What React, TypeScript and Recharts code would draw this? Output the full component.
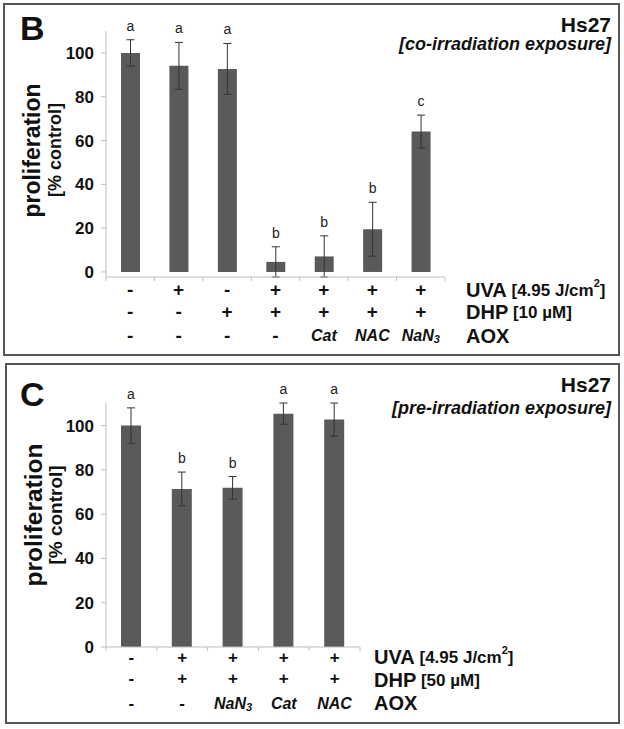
import { BarChart, Bar, XAxis, YAxis, ErrorBar, LabelList } from "recharts";

const FONT = "'Liberation Sans', Arial, sans-serif";
const BAR = "#5a5a5a";
const AXIS = "#bdbdbd";

// panel B – co-irradiation
const bUva = ["-", "+", "-", "+", "+", "+", "+"];
const bDhp = ["-", "-", "+", "+", "+", "+", "+"];
const bAox = ["-", "-", "-", "-", "Cat", "NAC", "NaN3"];
const bValues = [100, 94.1, 92.7, 4.6, 7.1, 19.5, 64.1];
const bErrors = [6, 10.7, 11.6, 6.9, 9.4, 12.3, 7.5];
const bLetters = ["a", "a", "a", "b", "b", "b", "c"];

// panel C – pre-irradiation
const cUva = ["-", "+", "+", "+", "+"];
const cDhp = ["-", "+", "+", "+", "+"];
const cAox = ["-", "-", "NaN3", "Cat", "NAC"];
const cValues = [100, 71.4, 71.9, 105.4, 102.7];
const cErrors = [8, 7.6, 5.1, 4.8, 7.5];
const cLetters = ["a", "b", "b", "a", "a"];

const yTicks = [0, 20, 40, 60, 80, 100];

const aoxText = (s: string) => {
  if (s === "NaN3") {
    return (
      <>
        <tspan>NaN</tspan>
        <tspan dy={4} fontSize={11}>3</tspan>
      </>
    );
  }
  return s;
};

const makeTick = (uva: string[], dhp: string[], aox: string[], rows: number[], size: number) => (props: any) => {
  const { x, y, payload, width } = props;
  const i = payload.index;
  const band = width / uva.length;
  const left = x - band / 2;
  return (
    <g fontFamily={FONT} fontWeight="bold" fill="#111">
      <line x1={left} x2={left} y1={y} y2={y + 4} stroke={AXIS} />
      {i === uva.length - 1 && <line x1={left + band} x2={left + band} y1={y} y2={y + 4} stroke={AXIS} />}
      <text x={x} y={y + rows[0]} textAnchor="middle" dominantBaseline="central" fontSize={size}>{uva[i]}</text>
      <text x={x} y={y + rows[1]} textAnchor="middle" dominantBaseline="central" fontSize={size}>{dhp[i]}</text>
      <text
        x={x}
        y={y + rows[2]}
        textAnchor="middle"
        dominantBaseline="central"
        fontSize={aox[i] === "-" ? size : 16}
        fontStyle={aox[i] === "-" ? "normal" : "italic"}
      >
        {aoxText(aox[i])}
      </text>
    </g>
  );
};

const makeLetter = (values: number[], errors: number[]) => (props: any) => {
  const { x, y, width, height, value, index } = props;
  const perUnit = height / values[index];
  const top = y - errors[index] * perUnit;
  return (
    <text x={x + width / 2} y={top - 9} textAnchor="middle" fontSize={14} fontFamily={FONT} fill="#222">
      {value}
    </text>
  );
};

type PanelProps = {
  top: number;
  height: number;
  values: number[];
  errors: number[];
  letters: string[];
  uva: string[];
  dhp: string[];
  aox: string[];
  margin: { top: number; right: number; bottom: number; left: number };
  rows: number[];
  signSize: number;
  barSize: number;
};

const Panel = ({ top, height, values, errors, letters, uva, dhp, aox, margin, rows, signSize, barSize }: PanelProps) => {
  const data = values.map((v, i) => ({ name: "g" + i, value: v, err: errors[i], letter: letters[i] }));
  return (
    <div style={{ position: "absolute", left: 0, top, width: 624, height }}>
      <BarChart width={624} height={height} data={data} margin={margin} barSize={barSize}>
        <XAxis
          dataKey="name"
          height={60}
          interval={0}
          axisLine={{ stroke: AXIS }}
          tickLine={false}
          tickSize={0}
          tickMargin={0}
          tick={makeTick(uva, dhp, aox, rows, signSize)}
        />
        <YAxis
          width={106}
          domain={[0, 110]}
          ticks={yTicks}
          interval={0}
          axisLine={{ stroke: AXIS }}
          tickLine={{ stroke: AXIS }}
          tickSize={5}
          tickMargin={7}
          tick={{ fontFamily: FONT, fontWeight: "bold", fontSize: 17, fill: "#111" }}
        />
        <Bar dataKey="value" fill={BAR} isAnimationActive={false}>
          <ErrorBar dataKey="err" width={4} stroke="#333" strokeWidth={1} isAnimationActive={false} />
          <LabelList dataKey="letter" content={makeLetter(values, errors)} />
        </Bar>
      </BarChart>
    </div>
  );
};

const RowLabel = ({ x, y, main, sub }: { x: number; y: number; main: string; sub?: React.ReactNode }) => (
  <text x={x} y={y} dominantBaseline="central" fontFamily={FONT} fontWeight="bold" fontSize={20} fill="#111">
    {main}
    {sub}
  </text>
);

const uvaSub = (
  <>
    <tspan fontSize={17}> [4.95 J/cm</tspan>
    <tspan fontSize={11} dy={-7}>2</tspan>
    <tspan fontSize={17} dy={7}>]</tspan>
  </>
);

export default function App() {
  return (
    <div style={{ position: "absolute", left: 0, top: 0, width: 624, height: 729, background: "#fff" }}>
      <Panel
        top={0}
        height={360}
        values={bValues}
        errors={bErrors}
        letters={bLetters}
        uva={bUva}
        dhp={bDhp}
        aox={bAox}
        margin={{ top: 31, right: 179, bottom: 23, left: 0 }}
        rows={[12, 34, 58]}
        signSize={19}
        barSize={19}
      />
      <Panel
        top={360}
        height={369}
        values={cValues}
        errors={cErrors}
        letters={cLetters}
        uva={cUva}
        dhp={cDhp}
        aox={cAox}
        margin={{ top: 43, right: 264, bottom: 22, left: 0 }}
        rows={[10, 31, 56]}
        signSize={17}
        barSize={20}
      />
      <svg width={624} height={729} style={{ position: "absolute", left: 0, top: 0, pointerEvents: "none" }}>
        <rect x={4} y={4} width={615} height={351} fill="none" stroke="#555" strokeWidth={2} />
        <rect x={6} y={364} width={613} height={359} fill="none" stroke="#555" strokeWidth={2} />

        <g fontFamily={FONT} fontWeight="bold" fill="#111">
          <text x={20} y={40} fontSize={34}>B</text>
          <text x={611} y={32} fontSize={21} textAnchor="end">Hs27</text>
          <text x={611} y={50} fontSize={18} fontStyle="italic" textAnchor="end">[co-irradiation exposure]</text>
          <text transform="translate(40,150.5) rotate(-90)" fontSize={23} textAnchor="middle">proliferation</text>
          <text transform="translate(61,150) rotate(-90)" fontSize={18} textAnchor="middle">[% control]</text>

          <text x={20} y={406} fontSize={34}>C</text>
          <text x={611} y={392} fontSize={21} textAnchor="end">Hs27</text>
          <text x={611} y={414} fontSize={18} fontStyle="italic" textAnchor="end">[pre-irradiation exposure]</text>
          <text transform="translate(42,515) rotate(-90)" fontSize={24.5} textAnchor="middle">proliferation</text>
          <text transform="translate(62,515) rotate(-90)" fontSize={19} textAnchor="middle">[% control]</text>
        </g>

        <RowLabel x={466} y={290} main="UVA" sub={uvaSub} />
        <RowLabel x={466} y={312} main="DHP" sub={<tspan fontSize={17}> [10 µM]</tspan>} />
        <RowLabel x={466} y={336} main="AOX" />

        <RowLabel x={374} y={657} main="UVA" sub={uvaSub} />
        <RowLabel x={374} y={680} main="DHP" sub={<tspan fontSize={17}> [50 µM]</tspan>} />
        <RowLabel x={374} y={703} main="AOX" />
      </svg>
    </div>
  );
}
